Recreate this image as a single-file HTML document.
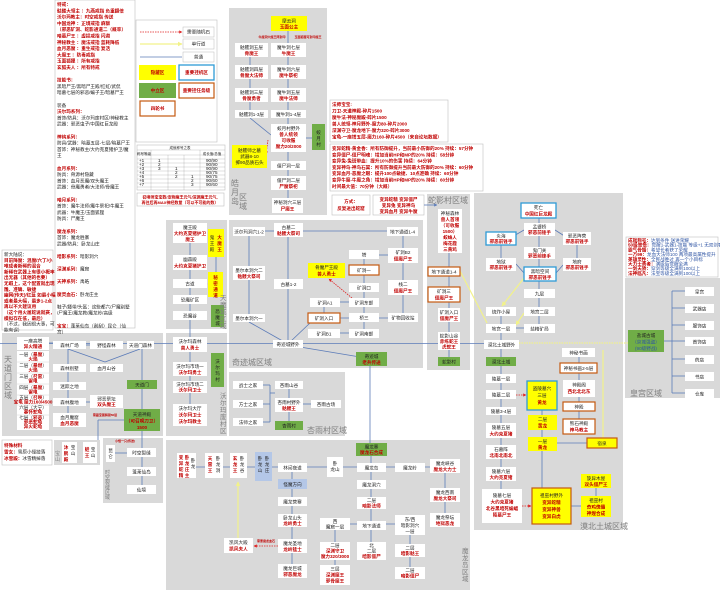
<!DOCTYPE html>
<html><head><meta charset="utf-8"><style>
html,body{margin:0;padding:0;background:#fff;}
svg{display:block;font-family:"Liberation Sans","Noto Sans CJK SC",sans-serif;}
text{font-size:4.6px;fill:#222;}
.c{text-anchor:middle;}
.r{fill:#c00000;font-weight:bold;}
.b{fill:#2f55a4;}
.w{fill:#fff;}
.y{fill:#ffff00;}
.g{fill:#70ad47;}
.p{fill:#d9d9d9;}
.ob{fill:#fff;stroke:#c55a11;stroke-width:1.2;}
.oy{fill:#ffff00;stroke:#c55a11;stroke-width:1.2;}
.bb{fill:#fff;stroke:#2e9bd6;stroke-width:1.3;}
.by{fill:#ffff00;stroke:#2e9bd6;stroke-width:1.3;}
.lb{fill:#b4c7e7;}
.L{stroke:#5b7bb8;stroke-width:.8;fill:none;}
.Y{stroke:#f2f28a;stroke-width:1.2;fill:none;}
.D{stroke:#e02020;stroke-width:.8;stroke-dasharray:1.5 1;fill:none;}
.lab{font-size:8px;fill:#7f7f7f;}
.box{fill:#fff;stroke:#bfbfbf;stroke-width:.6;}
</style></head><body>
<svg width="720" height="590" viewBox="0 0 720 590" xmlns="http://www.w3.org/2000/svg">
<defs>
<marker id="ar" markerWidth="4" markerHeight="4" refX="3.5" refY="2" orient="auto"><path d="M0,0 L4,2 L0,4z" fill="#e02020"/></marker>
<marker id="ay" markerWidth="4" markerHeight="4" refX="3.5" refY="2" orient="auto"><path d="M0,0 L4,2 L0,4z" fill="#f2f28a"/></marker>
<marker id="ab" markerWidth="4" markerHeight="4" refX="3.5" refY="2" orient="auto"><path d="M0,0 L4,2 L0,4z" fill="#5b7bb8"/></marker>
</defs>

<!-- panels -->
<rect class="p" x="229" y="8" width="98" height="207"/>
<rect class="p" x="166" y="220" width="61" height="109"/>
<rect class="p" x="229" y="220" width="194" height="148"/>
<rect class="p" x="427" y="194" width="43" height="176"/>
<rect class="p" x="474" y="193" width="149" height="337"/>
<rect class="p" x="625" y="278" width="95" height="120"/>
<rect class="p" x="2" y="333" width="161" height="103"/>
<rect class="p" x="166" y="333" width="61" height="103"/>
<rect class="p" x="229" y="372" width="116" height="64"/>
<rect class="p" x="166" y="440" width="304" height="150"/>
<rect class="p" x="103" y="438" width="60" height="65"/>
<rect class="p" x="54" y="440" width="46" height="25"/>

<!-- left text panel -->
<rect class="box" x="55" y="0" width="80" height="328"/>
<text x="57" y="6"><tspan class="r">特戒：</tspan>
<tspan x="57" dy="6.3" class="r">骷髅大领主 ：九燕戒指 负重翻倍</tspan>
<tspan x="57" dy="6.3" class="r">沃尔玛教主：时空戒指 传送</tspan>
<tspan x="57" dy="6.3" class="r">中国龙神 ：正境戒指 麻痹</tspan>
<tspan x="57" dy="6.3" class="r">（邪恶矿洞、蛇影通道二（概率）</tspan>
<tspan x="57" dy="6.3" class="r">暗墓尸王 ：虚损戒指 闪避</tspan>
<tspan x="57" dy="6.3" class="r">神秘教主 ：魔法戒指 蓝耗降低</tspan>
<tspan x="57" dy="6.3" class="r">血月恶魔 ：重生戒指 复活</tspan>
<tspan x="57" dy="6.3" class="r">大魔王 ：防毒戒指</tspan>
<tspan x="57" dy="6.3" class="r">玉面狐狸 ：所有戒指</tspan>
<tspan x="57" dy="6.3" class="r">玄狐夫人 ：所有特戒</tspan>
<tspan x="57" dy="12.6" class="r">技能书：</tspan>
<tspan x="57" dy="6.3">黑暗尸王/黑暗尸王殿/红虹/武侃</tspan>
<tspan x="57" dy="6.3">暗墓七层的邪恶/蝙子王/暗墓尸王</tspan>
<tspan x="57" dy="12.6">装备</tspan>
<tspan x="57" dy="6.3" class="r">沃尔玛系列：</tspan>
<tspan x="57" dy="6.3">首饰/防具：沃尔玛废村区/神秘教主</tspan>
<tspan x="57" dy="6.3">武器：邪恶虫子/中国红巨龙殿</tspan>
<tspan x="57" dy="12.6" class="r">神钨系列：</tspan>
<tspan x="57" dy="6.3">防具/武器：暗墓五层-七层/暗墓尸王</tspan>
<tspan x="57" dy="6.3">首饰：神秘教主/大约克夏猪护卫/魔</tspan>
<tspan x="57" dy="6.3">王</tspan>
<tspan x="57" dy="12.6" class="r">血月系列：</tspan>
<tspan x="57" dy="6.3">防具：骨源村隐藏</tspan>
<tspan x="57" dy="6.3">首饰：血月恶魔/双头魔王</tspan>
<tspan x="57" dy="6.3">武器：骨魔勇者/大法师/骨魔王</tspan>
<tspan x="57" dy="12.6" class="r">暗月系列：</tspan>
<tspan x="57" dy="6.3">首饰：魔牛法师/魔牛祭祀/牛魔王</tspan>
<tspan x="57" dy="6.3">武器：牛魔王/玉面狐狸</tspan>
<tspan x="57" dy="6.3">防具：尸魔王</tspan>
<tspan x="57" dy="12.6" class="r">魔龙系列：</tspan>
<tspan x="57" dy="6.3">首饰：魔龙胜寨</tspan>
<tspan x="57" dy="6.3">武器/防具：卧龙山庄</tspan>
<tspan x="57" dy="12.6" class="r">暗影系列：</tspan><tspan>暗影洞穴</tspan>
<tspan x="57" dy="12.6" class="r">深渊系列：</tspan><tspan>魔窟</tspan>
<tspan x="57" dy="12.6" class="r">天神系列：</tspan><tspan>禹皓</tspan>
<tspan x="57" dy="12.6" class="r">魔灵血石：</tspan><tspan>卧龙庄主</tspan>
<tspan x="57" dy="12.6">鞋子/腰带/头盔：这些都六/尸魔别墅</tspan>
<tspan x="57" dy="6.3">/尸魔王/魔龙教/魔龙岭/高级</tspan>
<tspan x="57" dy="12.6" class="r">宝宝：</tspan><tspan>蓬莱仙岛（刮刮）昆仑（仙</tspan>
<tspan x="57" dy="6.3">宫）</tspan></text>

<!-- legend -->
<rect class="box" x="136" y="20" width="81" height="122"/>
<line x1="140" y1="32" x2="182" y2="32" class="D" marker-end="url(#ar)"/>
<rect x="183" y="27" width="31" height="10" class="w" stroke="#bbb" stroke-width=".5"/><text class="c" x="198.5" y="33.5">需要随机石</text>
<line x1="140" y1="44" x2="182" y2="44" class="Y" marker-end="url(#ay)"/>
<rect x="183" y="39" width="31" height="10" class="w" stroke="#bbb" stroke-width=".5"/><text class="c" x="198.5" y="45.5">单行道</text>
<line x1="140" y1="57" x2="182" y2="57" class="L"/>
<rect x="183" y="52" width="31" height="10" class="w" stroke="#bbb" stroke-width=".5"/><text class="c" x="198.5" y="58.5">普通</text>
<rect class="y" x="139" y="65" width="37" height="15"/><text class="c r" x="157.5" y="74">隐藏区</text>
<rect class="bb" x="179" y="65" width="35" height="15"/><text class="c r" x="196.5" y="74">重要挂机区</text>
<rect class="g" x="139" y="83" width="37" height="15"/><text class="c r" x="157.5" y="92">中立区</text>
<rect class="ob" x="179" y="83" width="35" height="15"/><text class="c r" x="196.5" y="92">重要挂任务级</text>
<rect class="ob" x="140" y="101" width="35" height="15"/><text class="c r" x="157.5" y="110">四轮书</text>

<!-- table -->
<rect class="box" x="137" y="145" width="88" height="45"/>
<g stroke="#999" stroke-width=".3">
<line x1="137" y1="150" x2="225" y2="150"/><line x1="137" y1="155" x2="225" y2="155"/>
<line x1="137" y1="159" x2="225" y2="159"/><line x1="137" y1="163" x2="225" y2="163"/>
<line x1="137" y1="167" x2="225" y2="167"/><line x1="137" y1="171" x2="225" y2="171"/>
<line x1="137" y1="175" x2="225" y2="175"/><line x1="137" y1="179" x2="225" y2="179"/>
<line x1="137" y1="183" x2="225" y2="183"/><line x1="137" y1="187" x2="225" y2="187"/>
<line x1="151" y1="150" x2="151" y2="190"/><line x1="168" y1="155" x2="168" y2="190"/>
<line x1="184" y1="155" x2="184" y2="190"/><line x1="200" y1="150" x2="200" y2="190"/>
</g>
<text class="c" x="180" y="149" style="font-size:3.5px">成就称号之表</text>
<text class="c" x="144" y="155" style="font-size:3.5px">称号等级</text>
<text class="c" x="212" y="155" style="font-size:3.5px">成长值/总值</text>
<g style="font-size:3px"><text x="139" y="162">+1</text><text x="139" y="166">+2</text><text x="139" y="170">+3</text><text x="139" y="174">+4</text><text x="139" y="178">+5</text><text x="139" y="182">+6</text><text x="139" y="186">+7</text>
<text x="206" y="162">90/90</text><text x="206" y="166">90/90</text><text x="206" y="170">90/90</text><text x="206" y="174">90/75</text><text x="206" y="178">90/75</text><text x="206" y="182">90/60</text><text x="206" y="186">90/60</text>
<text x="158" y="162">1</text><text x="158" y="166">2</text><text x="158" y="170">3</text><text x="175" y="170">1</text><text x="175" y="174">2</text><text x="175" y="178">2</text><text x="191" y="178">1</text><text x="191" y="182">2</text><text x="191" y="186">3</text></g>

<!-- red note -->
<rect class="box" x="137" y="193" width="87" height="13"/>
<text class="c r" x="180" y="198.5" style="font-size:4px">召唤师宝宝数/宠物魔王元气/深渊魔王元气,</text>
<text class="c r" x="180" y="204" style="font-size:4px">再往后再MAX神经数量（可以不可能的数）</text>

<!-- left small text -->
<rect class="box" x="2" y="250" width="51" height="80"/>
<text x="4" y="256">新大陆说：<tspan x="4" dy="5.8" class="r">目前降魔：混魔/六丁/小</tspan><tspan x="4" dy="5.8" class="r">唯成者新稀的混合</tspan><tspan x="4" dy="5.8" class="r">新稀在武器上有很小概率</tspan><tspan x="4" dy="5.8" class="r">出无器（其他的也要）</tspan><tspan x="4" dy="5.8" class="r">无暇上，这个配置就出现</tspan><tspan x="4" dy="5.8" class="r">雕、准确、敏捷</tspan><tspan x="4" dy="5.8" class="r">幽网(传天)/红蓝 如最小幅</tspan><tspan x="4" dy="5.8" class="r">或者最大幅，最多1-2点</tspan><tspan x="4" dy="5.8" class="r">再以不大建议用</tspan><tspan x="4" dy="5.8" class="r">（这个用火属蛇说就赛，</tspan><tspan x="4" dy="5.8" class="r">模拟存在低，最后）</tspan><tspan x="4" dy="5.8">（不过，我因很大事，可</tspan><tspan x="4" dy="5.8">能有误）</tspan></text>

<!-- info boxes -->
<rect class="box" x="330" y="100" width="118" height="42"/>
<text x="332" y="106" class="r">法师宝宝:<tspan x="332" dy="6.5">刀卫-天道神殿-碎片1500</tspan><tspan x="332" dy="6.5">魔牛法-神秘魔殿-碎片1500</tspan><tspan x="332" dy="6.5">兽人统领-神月野外-魔力80-碎片2000</tspan><tspan x="332" dy="6.5">深渊守卫-魔龙地下-魔力320-碎片3000</tspan><tspan x="332" dy="6.5">宝龟-一座塔五层-魔力160-碎片4500（来自论坛数据）</tspan></text>
<rect class="box" x="330" y="144" width="153" height="47"/>
<text x="332" y="150" class="r">变异蛇精-黄金香：所有防御提升，当前最小防御的20% 持续：57分钟<tspan x="332" dy="6.3">变异僵尸-僵尸明魂：增加当前HP和MP的20% 持续：58分钟</tspan><tspan x="332" dy="6.3">变异兔-兔斑带血：提升10%的伤害 持续：64分钟</tspan><tspan x="332" dy="6.3">变异神鸟-神鸟石翼：所有防御提升当前最大防御的20% 持续：60分钟</tspan><tspan x="332" dy="6.3">变异血月-恶魔之眼：提升100点敏捷、10点准确 持续：60分钟</tspan><tspan x="332" dy="6.3">变异牛魔-牛魔之角：增加当前HP和MP的20% 持续：60分钟</tspan><tspan x="332" dy="6.3">时间最大值：70分钟（大概）</tspan></text>
<rect class="box" x="332" y="195" width="38" height="20"/>
<text class="c r" x="351" y="203">方式：</text><text class="c r" x="351" y="210">反复进出蛇窟</text>
<rect class="box" x="373" y="195" width="51" height="20"/>
<text class="c r" x="398.5" y="201">变异蛇精 变异僵尸</text><text class="c r" x="398.5" y="207">变异兔 变异神鸟</text><text class="c r" x="398.5" y="213">变异血月 变异牛魔</text>
<rect class="box" x="626" y="237" width="92" height="40"/>
<g style="font-size:3.6px"><text x="628" y="242"><tspan class="r">成就称号：</tspan><tspan class="b">达到条件 送进荣耀</tspan></text>
<text x="628" y="246.7"><tspan class="r">50级觉悟：</tspan><tspan class="b">觉醒1-武器1-技能 等级+1 无双剑客</tspan></text>
<text x="628" y="251.4"><tspan class="r">霸气骨骼：</tspan><tspan class="b">希望长者获了荣耀</tspan></text>
<text x="628" y="256.1"><tspan class="r">一万99：</tspan><tspan class="b">龙血大法师100 两项最高属性提升</tspan></text>
<text x="628" y="260.8"><tspan class="r">英雄灵性：</tspan><tspan class="b">全民战胜过 再一个小目标</tspan></text>
<text x="628" y="265.5"><tspan class="r">大力士勇者：</tspan><tspan class="b">满级后觉醒全满</tspan></text>
<text x="628" y="270.2"><tspan class="r">一剑天骄：</tspan><tspan class="b">穿剑等级全满到100以上</tspan></text>
<text x="628" y="274.9"><tspan class="r">法神临凡：</tspan><tspan class="b">法宝等级全满到100以上</tspan></text></g>
<rect class="box" x="2" y="440" width="50" height="25"/>
<text x="4" y="447" class="r">特殊材料<tspan x="4" dy="6.5">雪女：</tspan><tspan style="fill:#222;font-weight:normal">雪原小怪掉落</tspan><tspan x="4" dy="6.5">冰雪殿：</tspan><tspan style="fill:#222;font-weight:normal">冰雪精掉落</tspan></text>

<!-- ===== lines ===== -->
<g class="L">
<line x1="250" y1="57" x2="250" y2="110"/><line x1="288" y1="31" x2="288" y2="198"/>
<line x1="250" y1="118" x2="271" y2="135"/><line x1="306" y1="138" x2="312" y2="138"/>
<line x1="0" y1="343.5" x2="484" y2="343.5"/>
<line x1="190" y1="243" x2="190" y2="337"/><line x1="216" y1="257" x2="216" y2="272"/>
<line x1="190" y1="352" x2="190" y2="404"/>
<line x1="265" y1="231" x2="274" y2="231"/><line x1="303" y1="231" x2="387" y2="231"/>
<line x1="288" y1="237" x2="288" y2="340"/><line x1="249" y1="236" x2="249" y2="314"/>
<line x1="249" y1="322" x2="288" y2="344"/><line x1="310" y1="323" x2="290" y2="342"/>
<line x1="300" y1="347" x2="360" y2="357"/>
<line x1="364" y1="259" x2="364" y2="338"/><line x1="403" y1="236" x2="403" y2="313"/>
<line x1="379" y1="255" x2="388" y2="255"/><line x1="340" y1="302" x2="349" y2="302"/>
<line x1="340" y1="318" x2="388" y2="318"/><line x1="340" y1="333" x2="349" y2="333"/>
<line x1="324" y1="307" x2="324" y2="313"/><line x1="370" y1="366" x2="370" y2="443"/>
<line x1="449" y1="253" x2="449" y2="357"/><line x1="424" y1="205" x2="437" y2="205" marker-end="url(#ab)"/>
<line x1="501" y1="245" x2="501" y2="258"/><line x1="501" y1="316" x2="501" y2="489"/>
<line x1="539" y1="218" x2="539" y2="333"/><line x1="577" y1="245" x2="577" y2="258"/>
<line x1="524" y1="230" x2="512" y2="237"/><line x1="555" y1="230" x2="566" y2="237"/>
<line x1="516" y1="264" x2="524" y2="273"/><line x1="556" y1="273" x2="563" y2="265"/>
<line x1="516" y1="328" x2="524" y2="328"/>
<line x1="579" y1="357" x2="579" y2="434"/><line x1="542" y1="410" x2="542" y2="488"/>
<line x1="557" y1="443" x2="587" y2="443"/><line x1="571" y1="506" x2="581" y2="506"/>
<line x1="596" y1="488" x2="596" y2="496"/>
<line x1="664" y1="341" x2="672" y2="341"/><line x1="672" y1="291" x2="672" y2="393"/>
<line x1="672" y1="291" x2="685" y2="291"/><line x1="672" y1="308" x2="685" y2="308"/>
<line x1="672" y1="325" x2="685" y2="325"/><line x1="672" y1="341" x2="685" y2="341"/>
<line x1="672" y1="359" x2="685" y2="359"/><line x1="672" y1="376" x2="685" y2="376"/>
<line x1="672" y1="393" x2="685" y2="393"/>
<line x1="196" y1="467" x2="430" y2="467"/><line x1="292" y1="472" x2="292" y2="564"/>
<line x1="371" y1="456" x2="371" y2="542"/><line x1="445" y1="473" x2="445" y2="513"/>
<line x1="410" y1="535" x2="410" y2="567"/><line x1="350" y1="524" x2="395" y2="524"/>
<line x1="335" y1="530" x2="335" y2="565"/>
<line x1="68" y1="349" x2="68" y2="413"/><line x1="68" y1="349" x2="105" y2="362"/><line x1="105" y1="362" x2="140" y2="349"/>
<line x1="142" y1="349" x2="142" y2="448"/><line x1="86" y1="345" x2="90" y2="345"/>
<line x1="86" y1="402" x2="90" y2="402"/><line x1="124" y1="420" x2="98" y2="420"/><line x1="98" y1="420" x2="98" y2="440"/>
<line x1="115" y1="453" x2="127" y2="453"/><line x1="142" y1="457" x2="142" y2="485"/>
<line x1="49" y1="343" x2="53" y2="343"/>
<line x1="263" y1="385" x2="270" y2="385"/><line x1="263" y1="404" x2="270" y2="404"/><line x1="263" y1="422" x2="270" y2="422"/>
<line x1="270" y1="385" x2="270" y2="422"/><line x1="270" y1="393" x2="275" y2="393"/>
<line x1="289" y1="389" x2="289" y2="421"/><line x1="303" y1="404" x2="311" y2="404"/>
</g>
<g class="Y">
<line x1="460" y1="271" x2="487" y2="323"/><line x1="524" y1="278" x2="502" y2="306" marker-end="url(#ay)"/>
<line x1="524" y1="313" x2="516" y2="325" marker-end="url(#ay)"/>
<line x1="519" y1="343" x2="628" y2="343" stroke-dasharray="1.5 1"/>
<line x1="603" y1="350" x2="603" y2="438"/>
<line x1="238" y1="538" x2="238" y2="482" marker-end="url(#ay)"/>
</g>
<g class="D">
<line x1="268" y1="140" x2="266" y2="154" marker-end="url(#ar)"/>
<line x1="352" y1="298" x2="329" y2="279" marker-end="url(#ar)"/>
<line x1="216" y1="284" x2="208" y2="284" marker-end="url(#ar)"/>
<line x1="516" y1="395" x2="526" y2="395" marker-end="url(#ar)"/>
<line x1="522" y1="506" x2="531" y2="506" marker-end="url(#ar)"/>
<line x1="278" y1="546" x2="254" y2="546" marker-end="url(#ar)"/>
</g>

<!-- ===== 皓月岛 ===== -->
<rect class="y" x="271" y="16" width="36" height="15"/><text class="c" x="289" y="22.5">摩云洞</text><text class="c r" x="289" y="28.5">玉面公主</text>
<text class="c r" x="272" y="38" style="font-size:3px">牛魔洞穴魔王阵封印</text><text class="c r" x="308" y="38" style="font-size:3px">玉面狐狸可封印魔王</text>
<rect class="w" x="235" y="43" width="33" height="14"/><text class="c" x="251.5" y="49">骷髅洞五层</text><text class="c r" x="251.5" y="55">骨魔王</text>
<rect class="w" x="271" y="43" width="35" height="14"/><text class="c" x="288.5" y="49">魔牛洞七层</text><text class="c r" x="288.5" y="55">牛魔王</text>
<rect class="w" x="235" y="65" width="33" height="14"/><text class="c" x="251.5" y="71">骷髅洞四层</text><text class="c r" x="251.5" y="77">骨魔大法师</text>
<rect class="w" x="271" y="65" width="35" height="14"/><text class="c" x="288.5" y="71">魔牛洞六层</text><text class="c r" x="288.5" y="77">魔牛祭祀</text>
<rect class="w" x="235" y="88" width="33" height="14"/><text class="c" x="251.5" y="94">骷髅洞三层</text><text class="c r" x="251.5" y="100">骨魔勇者</text>
<rect class="w" x="271" y="88" width="35" height="14"/><text class="c" x="288.5" y="94">魔牛洞五层</text><text class="c r" x="288.5" y="100">魔牛法师</text>
<rect class="w" x="235" y="110" width="33" height="8"/><text class="c" x="251.5" y="116">骷髅洞1-3层</text>
<rect class="w" x="271" y="110" width="35" height="8"/><text class="c" x="288.5" y="116">魔牛洞1-4层</text>
<rect class="w" x="271" y="124" width="35" height="28"/><text class="c" x="288.5" y="130">蛟月村野外</text><text class="c r" x="288.5" y="136">兽人统领</text><text class="c r" x="288.5" y="142">可收服</text><text class="c r" x="288.5" y="148">魔力20/2000</text>
<rect class="g" x="312" y="124" width="13" height="26"/><text class="c" x="318.5" y="134">蛟</text><text class="c" x="318.5" y="140">月</text><text class="c" x="318.5" y="146">村</text>
<rect class="y" x="232" y="145" width="35" height="23"/><text class="c" x="249.5" y="152">骷髅师之墓</text><text class="c" x="249.5" y="158">武器8-10</text><text class="c" x="249.5" y="164">掷90品质石头</text>
<rect class="w" x="271" y="161" width="35" height="9"/><text class="c" x="288.5" y="167.5">僵尸洞一层</text>
<rect class="w" x="271" y="176" width="35" height="14"/><text class="c" x="288.5" y="182">僵尸洞二层</text><text class="c r" x="288.5" y="188">尸魔祭祀</text>
<rect class="w" x="272" y="198" width="31" height="15"/><text class="c" x="287.5" y="204">神秘洞穴三层</text><text class="c r" x="287.5" y="210.5">尸魔王</text>
<text class="lab" x="231" y="186">皓</text><text class="lab" x="231" y="195">月</text><text class="lab" x="231" y="204">岛</text><text class="lab" x="239" y="200">区</text><text class="lab" x="239" y="209">域</text>

<!-- ===== 天魔城 ===== -->
<rect class="w" x="173" y="223" width="34" height="20"/><text class="c" x="190" y="229">魔王殿</text><text class="c r" x="190" y="235">大约克夏猪护卫</text><text class="c r" x="190" y="241">魔王</text>
<rect class="y" x="208" y="229" width="16" height="28"/><text class="c r" x="219.5" y="239">大</text><text class="c r" x="219.5" y="245">魔</text><text class="c r" x="219.5" y="251">王</text><text class="c" x="212" y="239">鬼</text><text class="c" x="212" y="245">王</text><text class="c" x="212" y="251">殿</text>
<rect class="w" x="173" y="255" width="34" height="15"/><text class="c" x="190" y="261">幽森殿</text><text class="c r" x="190" y="267.5">大约克夏猪护卫</text>
<rect class="w" x="173" y="279" width="34" height="9"/><text class="c" x="190" y="285.5">古道</text>
<rect class="y" x="208" y="272" width="15" height="25"/><text class="c r" x="215.5" y="279">秘</text><text class="c r" x="215.5" y="285">密</text><text class="c r" x="215.5" y="291">通</text><text class="c r" x="215.5" y="297">道</text>
<rect class="w" x="173" y="295" width="34" height="9"/><text class="c" x="190" y="301.5">恐魔矿区</text>
<rect class="w" x="173" y="311" width="34" height="9"/><text class="c" x="190" y="317.5">恐魔谷</text>
<rect class="g" x="211" y="305" width="13" height="22"/><text class="c" x="217.5" y="313">恐</text><text class="c" x="217.5" y="319">魔</text><text class="c" x="217.5" y="325">城</text>
<text class="lab" x="220" y="300" style="font-size:6.5px">天</text><text class="lab" x="220" y="307" style="font-size:6.5px">魔</text><text class="lab" x="220" y="314" style="font-size:6.5px">城</text><text class="lab" x="220" y="321" style="font-size:6.5px">区</text><text class="lab" x="220" y="328" style="font-size:6.5px">域</text>

<!-- ===== 奇迹城 ===== -->
<rect class="w" x="233" y="227" width="32" height="9"/><text class="c" x="249" y="233.5">沃尔玛洞穴1-2</text>
<rect class="w" x="274" y="223" width="29" height="14"/><text class="c" x="288.5" y="229">古墓二</text><text class="c r" x="288.5" y="235">骷髅大祭司</text>
<rect class="w" x="387" y="227" width="31" height="9"/><text class="c" x="402.5" y="233.5">地下通道1-4</text>
<rect class="w" x="349" y="250" width="30" height="9"/><text class="c" x="364" y="256.5">塔</text>
<rect class="w" x="388" y="248" width="30" height="15"/><text class="c" x="403" y="254">矿洞B2</text><text class="c r" x="403" y="260.5">僵魔尸王</text>
<rect class="w" x="233" y="266" width="32" height="14"/><text class="c" x="249" y="272">墨尔本洞穴二</text><text class="c r" x="249" y="278">骷髅大祭司</text>
<rect class="y" x="308" y="263" width="37" height="15"/><text class="c" x="326.5" y="269">骨魔尸王殿</text><text class="c r" x="326.5" y="275.5">兽人勇士</text>
<rect class="ob" x="349" y="265" width="30" height="10"/><text class="c" x="364" y="272">矿洞一</text>
<rect class="w" x="274" y="279" width="29" height="10"/><text class="c" x="288.5" y="286">古墓1-2</text>
<rect class="w" x="349" y="283" width="30" height="9"/><text class="c" x="364" y="289.5">矿洞口</text>
<rect class="w" x="388" y="280" width="30" height="15"/><text class="c" x="403" y="286">栈二</text><text class="c r" x="403" y="292.5">僵魔尸王</text>
<rect class="w" x="310" y="298" width="30" height="9"/><text class="c" x="325" y="304.5">矿洞A1</text>
<rect class="w" x="349" y="298" width="30" height="9"/><text class="c" x="364" y="304.5">矿洞东部</text>
<rect class="w" x="233" y="314" width="32" height="8"/><text class="c" x="249" y="320">墨尔本洞穴一</text>
<rect class="ob" x="308" y="313" width="32" height="10"/><text class="c" x="324" y="320">矿洞入口</text>
<rect class="w" x="349" y="313" width="30" height="9"/><text class="c" x="364" y="319.5">桥三</text>
<rect class="w" x="388" y="313" width="30" height="9"/><text class="c" x="403" y="319.5">矿物回收站</text>
<rect class="w" x="308" y="329" width="32" height="9"/><text class="c" x="324" y="335.5">矿洞B1</text>
<rect class="w" x="349" y="329" width="30" height="9"/><text class="c" x="364" y="335.5">矿洞南部</text>
<rect class="w" x="273" y="340" width="30" height="8"/><text class="c" x="288" y="346">奇迹城野外</text>
<rect class="g" x="356" y="352" width="31" height="14"/><text class="c" x="371.5" y="358">奇迹城</text><text class="c r" x="371.5" y="364">老兵传送</text>
<text class="lab" x="232" y="365">奇迹城区域</text>

<!-- ===== 蛇影村 ===== -->
<text class="lab" x="428" y="203">蛇影村区域</text>
<rect class="w" x="438" y="209" width="24" height="44"/><text class="c" x="450" y="215">神秘森林</text><text class="c r" x="450" y="221">兽人首领</text><text class="c r" x="450" y="227">（可收服</text><text class="c r" x="450" y="233">1500）</text><text class="c r" x="450" y="239">蛟蛛人</text><text class="c r" x="450" y="245">梅花鹿</text><text class="c r" x="450" y="251">三黄鸡</text>
<rect class="ob" x="428" y="267" width="32" height="9"/><text class="c" x="444" y="273.5">地下通道1-4</text>
<rect class="ob" x="428" y="287" width="32" height="15"/><text class="c" x="444" y="293">矿洞三</text><text class="c r" x="444" y="299.5">僵魔尸王</text>
<rect class="w" x="438" y="308" width="22" height="14"/><text class="c" x="449" y="314">矿洞入口</text><text class="c r" x="449" y="320">僵魔尸王</text>
<rect class="w" x="438" y="332" width="22" height="18"/><text class="c" x="449" y="337.5">蛇影山谷</text><text class="c r" x="449" y="343">赤练蛇王</text><text class="c r" x="449" y="348.5">虎蛇王</text>
<rect class="g" x="438" y="357" width="22" height="9"/><text class="c" x="449" y="363.5">蛇影村</text>

<!-- ===== 漠北土城 ===== -->
<rect class="bb" x="521" y="203" width="35" height="15"/><text class="c" x="538.5" y="209">死亡</text><text class="c r" x="538.5" y="215.5">中国红巨龙殿</text>
<rect class="w" x="524" y="223" width="31" height="13"/><text class="c" x="539.5" y="228.5">孟婆桥</text><text class="c r" x="539.5" y="234">邪恶前锋手</text>
<rect class="bb" x="486" y="232" width="30" height="13"/><text class="c" x="501" y="237.5">炎海</text><text class="c r" x="501" y="243">邪恶前锋手</text>
<rect class="w" x="563" y="232" width="28" height="13"/><text class="c" x="577" y="237.5">邪恶阵营</text><text class="c r" x="577" y="243">邪恶前锋手</text>
<rect class="w" x="524" y="247" width="31" height="12"/><text class="c" x="539.5" y="252">鬼门关</text><text class="c r" x="539.5" y="257.5">邪恶前锋手</text>
<rect class="w" x="486" y="258" width="30" height="13"/><text class="c" x="501" y="263.5">地狱</text><text class="c r" x="501" y="269">邪恶前锋手</text>
<rect class="w" x="563" y="258" width="28" height="13"/><text class="c" x="577" y="263.5">地府</text><text class="c r" x="577" y="269">邪恶前锋手</text>
<rect class="bb" x="524" y="267" width="32" height="14"/><text class="c" x="540" y="273">黑暗空间</text><text class="c r" x="540" y="279">邪恶前锋手</text>
<rect class="w" x="524" y="289" width="31" height="9"/><text class="c" x="539.5" y="295.5">九层</text>
<rect class="w" x="486" y="307" width="30" height="9"/><text class="c" x="501" y="313.5">烧炸小屋</text>
<rect class="w" x="524" y="307" width="31" height="9"/><text class="c" x="539.5" y="313.5">地宫二层</text>
<rect class="w" x="486" y="324" width="30" height="9"/><text class="c" x="501" y="330.5">地宫一层</text>
<rect class="w" x="524" y="324" width="31" height="9"/><text class="c" x="539.5" y="330.5">盐精矿局</text>
<rect class="w" x="484" y="340" width="35" height="9"/><text class="c" x="501.5" y="346.5">漠北土城野外</text>
<rect class="g" x="486" y="357" width="30" height="9"/><text class="c" x="501" y="363.5">漠北土城</text>
<rect class="w" x="562" y="348" width="33" height="9"/><text class="c" x="578.5" y="354.5">神秘书画</text>
<rect class="ob" x="560" y="363" width="37" height="10"/><text class="c" x="578.5" y="370">神秘书画2-5层</text>
<rect class="w" x="563" y="380" width="32" height="17"/><text class="c" x="579" y="386.5">神殿阁</text><text class="c r" x="579" y="393">西北北北东</text>
<rect class="w" x="486" y="374" width="30" height="9"/><text class="c" x="501" y="380.5">陵墓一层</text>
<rect class="w" x="486" y="390" width="30" height="9"/><text class="c" x="501" y="396.5">陵墓二层</text>
<rect class="by" x="527" y="381" width="30" height="29"/><text class="c" x="542" y="390">盗陵墓穴</text><text class="c" x="542" y="397">三层</text><text class="c r" x="542" y="404">黄龙</text>
<rect class="ob" x="563" y="402" width="32" height="9"/><text class="c" x="579" y="408.5">神殿</text>
<rect class="w" x="486" y="407" width="30" height="8"/><text class="c" x="501" y="413">陵墓3-4层</text>
<rect class="ob" x="563" y="419" width="32" height="15"/><text class="c" x="579" y="425">熊石神殿</text><text class="c r" x="579" y="431.5">神马教主</text>
<rect class="y" x="528" y="415" width="29" height="15"/><text class="c" x="542.5" y="421">二层</text><text class="c r" x="542.5" y="427.5">黄龙</text>
<rect class="w" x="486" y="423" width="30" height="15"/><text class="c" x="501" y="429">陵墓五层</text><text class="c r" x="501" y="435.5">大约克夏猪</text>
<rect class="y" x="528" y="437" width="29" height="14"/><text class="c" x="542.5" y="443">一层</text><text class="c r" x="542.5" y="449">黄龙</text>
<rect class="oy" x="587" y="438" width="30" height="10"/><text class="c" x="602" y="445">宿泉</text>
<rect class="w" x="486" y="445" width="30" height="14"/><text class="c" x="501" y="451">石墓阵</text><text class="c r" x="501" y="457">北南北南北</text>
<rect class="w" x="486" y="467" width="30" height="14"/><text class="c" x="501" y="473">陵墓六层</text><text class="c r" x="501" y="479">大约克夏猪</text>
<rect class="w" x="482" y="489" width="40" height="34"/><text class="c" x="502" y="497">陵墓七层</text><text class="c r" x="502" y="503.5">大约克夏猪</text><text class="c r" x="502" y="510">北谷黑暗死蝙蝠</text><text class="c r" x="502" y="516.5">陵墓尸王</text>
<rect class="oy" x="532" y="488" width="39" height="36"/><text class="c" x="551.5" y="497">祖巫村野外</text><text class="c r" x="551.5" y="504">变异蛇精</text><text class="c r" x="551.5" y="511">变异神兽</text><text class="c r" x="551.5" y="518">变异白虎</text>
<rect class="y" x="581" y="474" width="30" height="14"/><text class="c" x="596" y="480">旋异木屋</text><text class="c r" x="596" y="486">双头僵尸王</text>
<rect class="y" x="581" y="496" width="30" height="21"/><text class="c" x="596" y="502">祖巫村</text><text class="c r" x="596" y="508.5">奇鸡傀儡</text><text class="c r" x="596" y="515">神煌合成</text>
<text class="lab" x="580" y="529">漠北土城区域</text>

<!-- ===== 皇宫 ===== -->
<rect class="g" x="628" y="330" width="36" height="22"/><text class="c" x="646" y="337">盐城古城</text><text class="c b" x="646" y="343.5">（京城强盗）</text><text class="c b" x="646" y="350">(90级野战)</text>
<rect class="w" x="685" y="287" width="29" height="9"/><text class="c" x="699.5" y="293.5">皇宫</text>
<rect class="w" x="685" y="304" width="29" height="9"/><text class="c" x="699.5" y="310.5">武器店</text>
<rect class="w" x="685" y="321" width="29" height="9"/><text class="c" x="699.5" y="327.5">服饰店</text>
<rect class="w" x="685" y="337" width="29" height="9"/><text class="c" x="699.5" y="343.5">首饰店</text>
<rect class="w" x="685" y="355" width="29" height="9"/><text class="c" x="699.5" y="361.5">药店</text>
<rect class="w" x="685" y="372" width="29" height="9"/><text class="c" x="699.5" y="378.5">书店</text>
<rect class="w" x="685" y="389" width="29" height="9"/><text class="c" x="699.5" y="395.5">仓库</text>
<text class="lab" x="630" y="396">皇宫区域</text>

<!-- ===== 天道门 ===== -->
<rect class="w" x="17" y="337" width="32" height="13"/><text class="c" x="33" y="342.5">一座高塔</text><text class="c r" x="33" y="348">异火精通</text>
<rect class="w" x="17" y="351" width="32" height="79"/>
<g style="font-size:3.6px"><text class="c" x="33" y="356">一层（<tspan class="r">暴魔</tspan>）</text><text class="c r" x="33" y="360.5">火焰</text>
<text class="c" x="33" y="367">二层（<tspan class="r">暴燃</tspan>）</text><text class="c r" x="33" y="371.5">火焰</text>
<text class="c" x="33" y="378">三层（<tspan class="r">召雷</tspan>）</text><text class="c r" x="33" y="382.5">雷电</text>
<text class="c" x="33" y="389">四层（<tspan class="r">暴魔</tspan>）</text><text class="c r" x="33" y="393.5">雷电</text>
<text class="c" x="33" y="399">五层（<tspan class="r">召唤</tspan>）</text><text class="c r" x="33" y="403.5">宝龟 魔力160/4500</text>
<text class="c" x="33" y="409">六层（大宁）</text><text class="c r" x="33" y="413.5">暴怀蛇龟</text>
<text class="c" x="33" y="419">七层（<tspan class="r">邪恶</tspan>）</text><text class="c r" x="33" y="423.5">邪恶蛇龟</text><text class="c r" x="33" y="428">异火蛇龟</text></g>
<g stroke="#ccc" stroke-width=".4"><line x1="17" y1="362" x2="49" y2="362"/><line x1="17" y1="373" x2="49" y2="373"/><line x1="17" y1="384" x2="49" y2="384"/><line x1="17" y1="395" x2="49" y2="395"/><line x1="17" y1="405" x2="49" y2="405"/><line x1="17" y1="415" x2="49" y2="415"/></g>
<rect class="w" x="53" y="341" width="33" height="8"/><text class="c" x="69.5" y="347">森林广场</text>
<rect class="w" x="90" y="341" width="33" height="8"/><text class="c" x="106.5" y="347">野怪森林</text>
<rect class="w" x="127" y="341" width="27" height="8"/><text class="c" x="140.5" y="347">天道门森林</text>
<rect class="w" x="53" y="364" width="33" height="8"/><text class="c" x="69.5" y="370">森林别墅</text>
<rect class="w" x="90" y="364" width="33" height="8"/><text class="c" x="106.5" y="370">血月山谷</text>
<rect class="w" x="53" y="382" width="33" height="8"/><text class="c" x="69.5" y="388">迷踪之地</text>
<rect class="g" x="127" y="380" width="30" height="9"/><text class="c" x="142" y="386.5">天道门</text>
<rect class="w" x="53" y="398" width="33" height="8"/><text class="c" x="69.5" y="404">森林腹地</text>
<rect class="w" x="90" y="395" width="33" height="13"/><text class="c" x="106.5" y="400.5">邪恶祭坛</text><text class="c r" x="106.5" y="406">双头魔王</text>
<rect class="w" x="53" y="413" width="33" height="14"/><text class="c" x="69.5" y="419">血月魔窟</text><text class="c r" x="69.5" y="425">血月恶魔</text>
<rect class="g" x="124" y="409" width="36" height="22"/><text class="c" x="142" y="416">天道神殿</text><text class="c r" x="142" y="422.5">（可召唤刀卫）</text><text class="c r" x="142" y="429">1500</text>
<text class="c r" x="105" y="416" style="font-size:3px">需藏宝图解锁60层</text>
<text class="lab" x="4" y="362">天</text><text class="lab" x="4" y="371">道</text><text class="lab" x="4" y="380">门</text><text class="lab" x="4" y="389">区</text><text class="lab" x="4" y="398">域</text>

<!-- ===== 宝山 / 时空裂缝 ===== -->
<rect class="w" x="62" y="442" width="15" height="21"/><text class="c r" x="66" y="449">沐</text><text class="c r" x="66" y="455">鹏</text><text class="c r" x="66" y="461">殿</text><text class="c" x="73" y="449">宝</text><text class="c" x="73" y="455">山</text>
<rect class="w" x="83" y="442" width="14" height="21"/><text class="c r" x="87" y="451">蛙</text><text class="c r" x="87" y="457">王</text><text class="c" x="93" y="451">宝</text><text class="c" x="93" y="457">山</text>
<text class="lab" x="55" y="455" style="font-size:5px">宝</text><text class="lab" x="55" y="461" style="font-size:5px">山</text>
<text class="c r" x="125" y="442" style="font-size:3px">小怪一只(传送)</text>
<rect class="w" x="106" y="445" width="9" height="17"/><text class="c" x="110.5" y="452">昆</text><text class="c" x="110.5" y="458">仑</text>
<rect class="w" x="127" y="448" width="29" height="9"/><text class="c" x="141.5" y="454.5">时空裂缝</text>
<rect class="w" x="127" y="467" width="29" height="9"/><text class="c" x="141.5" y="473.5">蓬莱仙岛</text>
<rect class="w" x="127" y="485" width="29" height="9"/><text class="c" x="141.5" y="491.5">仙境</text>
<text class="lab" x="105" y="474" style="font-size:5px">时</text><text class="lab" x="105" y="479" style="font-size:5px">空</text><text class="lab" x="105" y="484" style="font-size:5px">裂</text><text class="lab" x="105" y="489" style="font-size:5px">缝</text><text class="lab" x="105" y="494" style="font-size:5px">区</text><text class="lab" x="105" y="499" style="font-size:5px">域</text>

<!-- ===== 沃尔玛废村 ===== -->
<rect class="w" x="173" y="337" width="34" height="15"/><text class="c" x="190" y="343">沃尔玛森林</text><text class="c r" x="190" y="349.5">兽人勇士</text>
<rect class="g" x="211" y="353" width="13" height="34"/><text class="c" x="217.5" y="363">沃</text><text class="c" x="217.5" y="369">尔</text><text class="c" x="217.5" y="375">玛</text><text class="c" x="217.5" y="381">村</text>
<rect class="w" x="173" y="362" width="34" height="14"/><text class="c" x="190" y="368">沃尔玛市场一</text><text class="c r" x="190" y="374">沃尔玛勇士</text>
<rect class="w" x="173" y="381" width="34" height="12"/><text class="c" x="190" y="386">沃尔玛市场二</text><text class="c r" x="190" y="391.5">沃尔玛卫士</text>
<rect class="w" x="173" y="404" width="34" height="22"/><text class="c" x="190" y="410">沃尔玛大厅</text><text class="c r" x="190" y="416.5">沃尔玛卫士</text><text class="c r" x="190" y="423">沃尔玛教主</text>
<text class="lab" x="220" y="398" style="font-size:6.5px">沃</text><text class="lab" x="220" y="405" style="font-size:6.5px">尔</text><text class="lab" x="220" y="412" style="font-size:6.5px">玛</text><text class="lab" x="220" y="419" style="font-size:6.5px">废</text><text class="lab" x="220" y="426" style="font-size:6.5px">村</text><text class="lab" x="220" y="433" style="font-size:6.5px">区</text>

<!-- ===== 杏雨村 ===== -->
<rect class="w" x="233" y="381" width="30" height="8"/><text class="c" x="248" y="387">战士之家</text>
<rect class="w" x="275" y="381" width="28" height="8"/><text class="c" x="289" y="387">杏雨山谷</text>
<rect class="w" x="233" y="400" width="30" height="8"/><text class="c" x="248" y="406">方士之家</text>
<rect class="w" x="275" y="398" width="28" height="14"/><text class="c" x="289" y="404">杏雨村野外</text><text class="c r" x="289" y="410">骷髅王</text>
<rect class="w" x="311" y="400" width="30" height="8"/><text class="c" x="326" y="406">杏雨古场</text>
<rect class="w" x="233" y="418" width="30" height="8"/><text class="c" x="248" y="424">法师之家</text>
<rect class="g" x="275" y="421" width="28" height="9"/><text class="c" x="289" y="427.5">杏雨村</text>
<text class="lab" x="307" y="433">杏雨村区域</text>

<!-- ===== 魔龙岛 ===== -->
<rect class="w" x="177" y="453" width="19" height="25"/><text class="c r" x="181" y="459">变</text><text class="c r" x="181" y="465">异</text><text class="c r" x="181" y="471">蛇</text><text class="c r" x="181" y="477">精</text><text class="c r" x="187" y="459">卧</text><text class="c r" x="187" y="465">龙</text><text class="c r" x="187" y="471">庄</text><text class="c r" x="187" y="477">主</text><text class="c" x="193" y="462">卧</text><text class="c" x="193" y="468">龙</text>
<rect class="w" x="205" y="453" width="18" height="25"/><text class="c r" x="210" y="460">天</text><text class="c r" x="210" y="466">雷</text><text class="c r" x="210" y="472">王</text><text class="c" x="218" y="460">卧</text><text class="c" x="218" y="466">龙</text><text class="c" x="218" y="472">洞</text>
<rect class="w" x="230" y="453" width="17" height="25"/><text class="c r" x="235" y="460">玄</text><text class="c r" x="235" y="466">龙</text><text class="c r" x="235" y="472">王</text><text class="c" x="242" y="460">卧</text><text class="c" x="242" y="466">龙</text><text class="c" x="242" y="472">谷</text>
<rect class="lb" x="255" y="452" width="17" height="29"/><text class="c" x="260" y="460">卧</text><text class="c" x="260" y="466">龙</text><text class="c" x="260" y="472">山</text><text class="c" x="267" y="460">卧</text><text class="c" x="267" y="466">龙</text><text class="c" x="267" y="472">庄</text>
<rect class="w" x="278" y="463" width="29" height="9"/><text class="c" x="292.5" y="469.5">林间夜道</text>
<rect class="w" x="327" y="457" width="16" height="20"/><text class="c" x="335" y="465">卧</text><text class="c" x="335" y="471">龙山</text>
<rect class="g" x="356" y="443" width="31" height="13"/><text class="c" x="371.5" y="448.5">魔龙寨</text><text class="c r" x="371.5" y="454">魔龙石合成</text>
<rect class="w" x="357" y="463" width="29" height="9"/><text class="c" x="371.5" y="469.5">魔龙岛</text>
<rect class="w" x="395" y="463" width="30" height="9"/><text class="c" x="410" y="469.5">魔龙岭</text>
<rect class="w" x="430" y="459" width="30" height="14"/><text class="c" x="445" y="465">魔龙峡谷</text><text class="c r" x="445" y="471">魔龙大力士</text>
<rect class="lb" x="278" y="479" width="29" height="10"/><text class="c" x="292.5" y="486">怪魔方向</text>
<rect class="w" x="357" y="480" width="29" height="9"/><text class="c" x="371.5" y="486.5">魔龙洞穴</text>
<rect class="w" x="278" y="497" width="29" height="9"/><text class="c" x="292.5" y="503.5">魔龙营寨</text>
<rect class="w" x="357" y="497" width="29" height="12"/><text class="c" x="371.5" y="502">二层</text><text class="c r" x="371.5" y="507.5">暗影法师</text>
<rect class="w" x="430" y="488" width="30" height="14"/><text class="c" x="445" y="494">魔龙西南</text><text class="c r" x="445" y="500">魔龙大祭司</text>
<rect class="w" x="278" y="514" width="29" height="13"/><text class="c" x="292.5" y="519.5">卧龙山头</text><text class="c r" x="292.5" y="525">龙岭勇士</text>
<rect class="w" x="320" y="518" width="30" height="12"/><text class="c" x="335" y="523">西</text><text class="c" x="335" y="528.5">魔窟一层</text>
<rect class="w" x="357" y="521" width="29" height="9"/><text class="c" x="371.5" y="527.5">地下通道</text>
<rect class="w" x="395" y="515" width="30" height="20"/><text class="c" x="410" y="521">东/西</text><text class="c" x="410" y="527">暗影洞穴</text><text class="c" x="410" y="533">一层</text>
<rect class="w" x="430" y="513" width="30" height="14"/><text class="c" x="445" y="519">魔龙祭坛</text><text class="c r" x="445" y="525">地狱恶龙</text>
<rect class="w" x="224" y="538" width="29" height="15"/><text class="c" x="238.5" y="544">凯风大殿</text><text class="c r" x="238.5" y="550.5">凯风夫人</text>
<text class="c r" x="266" y="542" style="font-size:3px">需要魔龙血石</text>
<rect class="w" x="278" y="539" width="29" height="14"/><text class="c" x="292.5" y="545">魔龙圣地</text><text class="c r" x="292.5" y="551">龙岭猛士</text>
<rect class="w" x="320" y="542" width="30" height="18"/><text class="c" x="335" y="547">二层</text><text class="c r" x="335" y="552.5">深渊守卫</text><text class="c r" x="335" y="558">魔力320/3000</text>
<rect class="w" x="357" y="542" width="29" height="18"/><text class="c" x="371.5" y="547">北</text><text class="c" x="371.5" y="552.5">二层</text><text class="c r" x="371.5" y="558">暗影僵尸</text>
<rect class="w" x="395" y="544" width="30" height="13"/><text class="c" x="410" y="549.5">二层</text><text class="c r" x="410" y="555">暗影骷王</text>
<rect class="w" x="278" y="564" width="29" height="14"/><text class="c" x="292.5" y="570">魔龙巨城</text><text class="c r" x="292.5" y="576">邪恶魔龙</text>
<rect class="w" x="320" y="565" width="30" height="20"/><text class="c" x="335" y="570.5">三层</text><text class="c r" x="335" y="576.5">深渊魔王</text><text class="c r" x="335" y="582.5">邪骨魔王</text>
<rect class="w" x="395" y="567" width="30" height="12"/><text class="c" x="410" y="572">二层</text><text class="c r" x="410" y="577.5">暗影僵尸</text>
<text class="lab" x="462" y="553" style="font-size:6.5px">魔</text><text class="lab" x="462" y="560" style="font-size:6.5px">龙</text><text class="lab" x="462" y="567" style="font-size:6.5px">岛</text><text class="lab" x="462" y="574" style="font-size:6.5px">区</text><text class="lab" x="462" y="581" style="font-size:6.5px">域</text>
</svg>
</body></html>
